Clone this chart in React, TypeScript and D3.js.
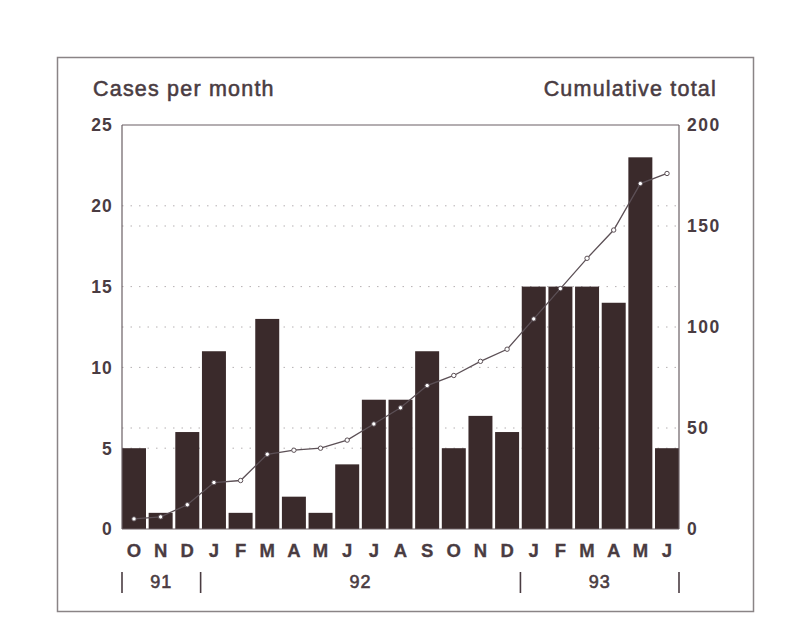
import React from "react";
import * as d3 from "d3";

const months = ["O","N","D","J","F","M","A","M","J","J","A","S","O","N","D","J","F","M","A","M","J"];
const cases = [5,1,6,11,1,13,2,1,4,8,8,11,5,7,6,15,15,15,14,23,5];
const cumulative = [5,6,12,23,24,37,39,40,44,52,60,71,76,83,89,104,119,134,148,171,176];
const leftTicks = [0,5,10,15,20,25];
const rightTicks = [0,50,100,150,200];
const years = [
  { label: "91", start: 0, end: 3 },
  { label: "92", start: 3, end: 15 },
  { label: "93", start: 15, end: 21 },
];

const W = 793, H = 642;
const X0 = 122, X1 = 679, Y0 = 529, Y1 = 125;
const textColor = "#4a3c42";
const barColor = "#3a2a2b";
const font = "'Liberation Sans', Arial, Helvetica, sans-serif";

export default function App() {
  const idx = months.map((_, i) => i);
  const x = d3.scaleBand<number>().domain(idx).range([X0, X1]).paddingInner(0.1).paddingOuter(0);
  const yL = d3.scaleLinear().domain([0, 25]).range([Y0, Y1]);
  const yR = d3.scaleLinear().domain([0, 200]).range([Y0, Y1]);
  const line = d3.line<number>()
    .x((_, i) => x(i)! + x.bandwidth() / 2)
    .y((d) => yR(d));
  const bandStart = (i: number) => (i < months.length ? x(i)! - (i === 0 ? 0 : (x.step() - x.bandwidth()) / 2) : X1);

  return (
    <svg width={W} height={H} style={{ position: "absolute", left: 0, top: 0, background: "#fff" }} fontFamily={font}>
      <rect x={57.5} y={57.5} width={696} height={554} fill="none" stroke="#8a8486" strokeWidth={1.5} />
      <text x={93} y={96} fontSize={21.5} fill={textColor} stroke={textColor} strokeWidth={0.55} letterSpacing={1.2}>Cases per month</text>
      <text x={717} y={96} fontSize={21.5} fill={textColor} stroke={textColor} strokeWidth={0.55} letterSpacing={1.2} textAnchor="end">Cumulative total</text>

      {leftTicks.filter((t) => t > 0 && t < 25).map((t) => (
        <line key={"gl" + t} x1={X0} x2={X1} y1={yL(t)} y2={yL(t)} stroke="#b5b0b2" strokeWidth={1} strokeDasharray="1.5 7" />
      ))}
      {rightTicks.filter((t) => t > 0 && t < 200).map((t) => (
        <line key={"gr" + t} x1={X0} x2={X1} y1={yR(t)} y2={yR(t)} stroke="#b5b0b2" strokeWidth={1} strokeDasharray="1.5 7" />
      ))}

      {cases.map((v, i) => (
        <rect key={"b" + i} x={x(i)} y={yL(v)} width={x.bandwidth()} height={Y0 - yL(v)} fill={barColor} />
      ))}

      <path d={line(cumulative) || ""} fill="none" stroke="#5c5056" strokeWidth={1.3} />
      {cumulative.map((v, i) => (
        <circle key={"c" + i} cx={x(i)! + x.bandwidth() / 2} cy={yR(v)} r={2.2} fill="#fff" stroke="#5c5056" strokeWidth={1} />
      ))}

      <line x1={X0} x2={X1} y1={Y1} y2={Y1} stroke="#6a5f64" strokeWidth={1.2} />
      <line x1={X0} x2={X0} y1={Y1} y2={Y0} stroke="#6a5f64" strokeWidth={1.2} />
      <line x1={X1} x2={X1} y1={Y1} y2={Y0} stroke="#6a5f64" strokeWidth={1.2} />
      <line x1={X0} x2={X1} y1={Y0} y2={Y0} stroke="#6a5f64" strokeWidth={1} />

      {leftTicks.map((t) => (
        <text key={"lt" + t} x={113} y={yL(t)} dy="0.36em" textAnchor="end" fontSize={17.5} fontWeight="bold" fill={textColor} letterSpacing={1.2}>{t}</text>
      ))}
      {rightTicks.map((t) => (
        <text key={"rt" + t} x={687} y={yR(t)} dy="0.36em" textAnchor="start" fontSize={17.5} fontWeight="bold" fill={textColor} letterSpacing={1.5}>{t}</text>
      ))}

      {months.map((m, i) => (
        <text key={"m" + i} x={x(i)! + x.bandwidth() / 2} y={557} textAnchor="middle" fontSize={18.5} fontWeight="bold" fill={textColor} stroke={textColor} strokeWidth={0.3}>{m}</text>
      ))}

      {years.map((yr) => {
        const a = bandStart(yr.start);
        const b = bandStart(yr.end);
        return (
          <text key={yr.label} x={(a + b) / 2} y={588} textAnchor="middle" fontSize={18} fill={textColor} stroke={textColor} strokeWidth={0.6} letterSpacing={1}>{yr.label}</text>
        );
      })}
      {[0, 3, 15, 21].map((i) => (
        <line key={"sep" + i} x1={bandStart(i)} x2={bandStart(i)} y1={572} y2={593} stroke={textColor} strokeWidth={1.6} />
      ))}
    </svg>
  );
}
